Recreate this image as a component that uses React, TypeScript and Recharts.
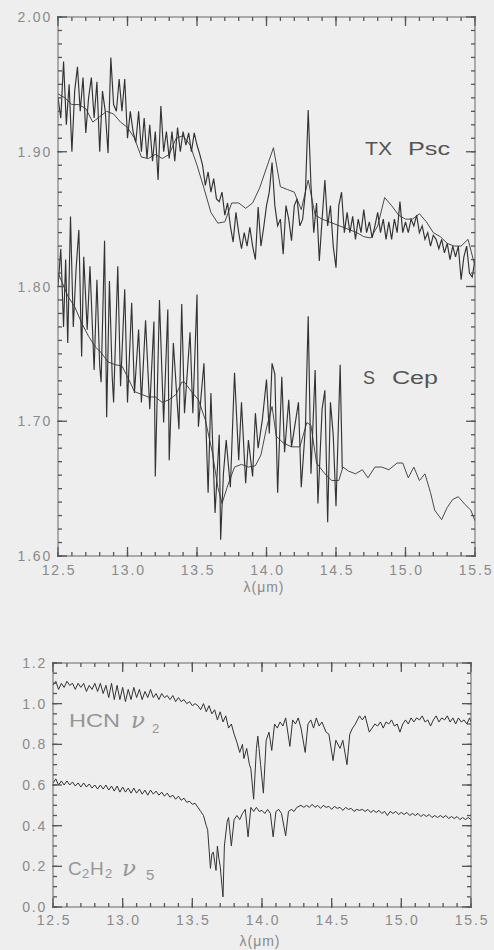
import React from 'react';
import { LineChart, Line, XAxis, YAxis } from 'recharts';

type P = [number, number];

// TX Psc observed spectrum (wavelength µm, relative flux)
const txPscObserved: P[] = [
  [12.50,1.94],[12.52,1.925],[12.54,1.967],[12.56,1.92],[12.58,1.95],[12.60,1.90],[12.62,1.945],[12.64,1.963],
  [12.66,1.93],[12.68,1.955],[12.70,1.914],[12.72,1.94],[12.74,1.955],[12.76,1.925],[12.78,1.952],[12.80,1.90],
  [12.82,1.945],[12.84,1.93],[12.86,1.899],[12.88,1.97],[12.90,1.935],[12.92,1.93],[12.94,1.954],[12.96,1.93],
  [12.98,1.954],[13.00,1.91],[13.02,1.93],[13.04,1.915],[13.06,1.907],[13.08,1.93],[13.10,1.90],[13.12,1.925],
  [13.14,1.895],[13.16,1.92],[13.18,1.893],[13.20,1.915],[13.22,1.879],[13.24,1.934],[13.26,1.90],[13.28,1.915],
  [13.30,1.895],[13.32,1.915],[13.34,1.893],[13.36,1.918],[13.38,1.90],[13.40,1.915],[13.42,1.905],[13.44,1.914],
  [13.46,1.90],[13.48,1.914],[13.50,1.905],[13.52,1.898],[13.54,1.89],[13.56,1.875],[13.58,1.885],[13.60,1.87],
  [13.62,1.88],[13.64,1.865],[13.66,1.863],[13.68,1.87],[13.70,1.853],[13.72,1.862],[13.74,1.845],[13.76,1.833],
  [13.78,1.855],[13.80,1.84],[13.82,1.828],[13.84,1.84],[13.86,1.83],[13.88,1.844],[13.90,1.83],[13.92,1.82],
  [13.94,1.859],[13.96,1.83],[13.98,1.844],[14.00,1.86],[14.02,1.87],[14.04,1.892],[14.06,1.86],[14.08,1.845],
  [14.10,1.85],[14.12,1.824],[14.14,1.86],[14.16,1.85],[14.18,1.834],[14.20,1.86],[14.22,1.865],[14.24,1.845],
  [14.26,1.85],[14.28,1.87],[14.30,1.931],[14.32,1.875],[14.34,1.84],[14.36,1.862],[14.38,1.819],[14.40,1.85],
  [14.42,1.879],[14.44,1.845],[14.46,1.86],[14.48,1.83],[14.50,1.814],[14.52,1.86],[14.54,1.87],[14.56,1.84],
  [14.58,1.855],[14.60,1.84],[14.62,1.852],[14.64,1.835],[14.66,1.85],[14.68,1.84],[14.70,1.857],[14.72,1.84],
  [14.74,1.848],[14.76,1.836],[14.78,1.845],[14.80,1.855],[14.82,1.84],[14.84,1.85],[14.86,1.835],[14.88,1.848],
  [14.90,1.835],[14.92,1.85],[14.94,1.84],[14.96,1.863],[14.98,1.84],[15.00,1.848],[15.02,1.84],[15.04,1.85],
  [15.06,1.845],[15.08,1.853],[15.10,1.84],[15.12,1.845],[15.14,1.835],[15.16,1.84],[15.18,1.83],[15.20,1.838],
  [15.22,1.835],[15.24,1.828],[15.26,1.835],[15.28,1.825],[15.30,1.832],[15.32,1.82],[15.34,1.83],[15.36,1.822],
  [15.38,1.83],[15.40,1.805],[15.42,1.822],[15.44,1.83],[15.46,1.81],[15.48,1.807],[15.50,1.82],
];

// TX Psc smoother comparison spectrum
const txPscModel: P[] = [
  [12.50,1.943],[12.55,1.94],[12.60,1.935],[12.65,1.935],[12.70,1.932],[12.75,1.922],[12.80,1.926],[12.85,1.93],
  [12.90,1.928],[12.95,1.922],[13.00,1.918],[13.05,1.91],[13.10,1.896],[13.15,1.895],[13.20,1.898],[13.25,1.895],
  [13.30,1.898],[13.35,1.91],[13.40,1.912],[13.45,1.905],[13.50,1.89],[13.55,1.873],[13.60,1.855],[13.65,1.847],
  [13.70,1.848],[13.75,1.862],[13.80,1.862],[13.85,1.858],[13.90,1.862],[13.95,1.873],[14.00,1.888],[14.05,1.903],
  [14.10,1.874],[14.15,1.872],[14.20,1.87],[14.25,1.857],[14.30,1.879],[14.35,1.853],[14.40,1.85],[14.45,1.848],
  [14.50,1.846],[14.55,1.844],[14.60,1.842],[14.65,1.84],[14.70,1.837],[14.75,1.836],[14.80,1.845],[14.85,1.866],
  [14.90,1.86],[14.95,1.853],[15.00,1.85],[15.05,1.85],[15.10,1.854],[15.15,1.848],[15.20,1.84],[15.25,1.837],
  [15.30,1.832],[15.35,1.83],[15.40,1.83],[15.45,1.835],[15.50,1.815],
];

// S Cep observed spectrum (ends near 14.55 µm)
const sCepObserved: P[] = [
  [12.50,1.80],[12.52,1.828],[12.54,1.77],[12.555,1.82],[12.57,1.758],[12.59,1.852],[12.61,1.77],[12.63,1.813],
  [12.65,1.842],[12.67,1.748],[12.685,1.822],[12.71,1.768],[12.73,1.815],[12.76,1.738],[12.78,1.805],[12.80,1.741],
  [12.81,1.729],[12.835,1.834],[12.85,1.703],[12.87,1.804],[12.89,1.733],[12.90,1.714],[12.93,1.815],[12.95,1.726],
  [12.98,1.798],[13.00,1.714],[13.03,1.788],[13.05,1.721],[13.08,1.768],[13.10,1.714],[13.13,1.775],[13.16,1.709],
  [13.17,1.731],[13.19,1.774],[13.20,1.659],[13.23,1.79],[13.26,1.699],[13.29,1.783],[13.30,1.671],[13.33,1.758],
  [13.35,1.726],[13.37,1.694],[13.39,1.787],[13.41,1.706],[13.45,1.766],[13.47,1.706],[13.50,1.794],[13.51,1.696],
  [13.55,1.743],[13.58,1.647],[13.60,1.721],[13.63,1.632],[13.66,1.69],[13.67,1.612],[13.69,1.661],[13.71,1.686],
  [13.74,1.651],[13.77,1.736],[13.80,1.671],[13.82,1.714],[13.85,1.654],[13.87,1.686],[13.90,1.659],[13.92,1.706],
  [13.94,1.68],[13.97,1.701],[14.00,1.731],[14.02,1.691],[14.04,1.743],[14.06,1.735],[14.08,1.647],[14.11,1.733],
  [14.13,1.677],[14.16,1.716],[14.18,1.681],[14.23,1.714],[14.25,1.651],[14.28,1.696],[14.30,1.778],[14.32,1.661],
  [14.35,1.738],[14.37,1.639],[14.40,1.709],[14.42,1.723],[14.44,1.625],[14.46,1.714],[14.48,1.69],[14.50,1.637],
  [14.53,1.742],[14.545,1.665],
];

// S Cep smoother comparison spectrum
const sCepModel: P[] = [
  [12.50,1.81],[12.53,1.803],[12.57,1.793],[12.62,1.785],[12.67,1.773],[12.72,1.763],[12.77,1.755],[12.81,1.751],
  [12.86,1.744],[12.91,1.742],[12.96,1.741],[13.00,1.733],[13.05,1.722],[13.10,1.72],[13.15,1.718],[13.20,1.718],
  [13.25,1.714],[13.30,1.716],[13.35,1.72],[13.39,1.729],[13.41,1.729],[13.46,1.722],[13.51,1.716],[13.56,1.701],
  [13.61,1.677],[13.65,1.651],[13.68,1.639],[13.72,1.652],[13.77,1.666],[13.82,1.668],[13.87,1.666],[13.92,1.667],
  [13.96,1.675],[14.00,1.695],[14.04,1.711],[14.07,1.689],[14.12,1.684],[14.18,1.681],[14.24,1.681],[14.29,1.699],
  [14.32,1.697],[14.36,1.669],[14.42,1.661],[14.47,1.656],[14.52,1.656],[14.55,1.666],[14.59,1.663],[14.64,1.661],
  [14.69,1.664],[14.73,1.658],[14.78,1.666],[14.83,1.666],[14.88,1.664],[14.94,1.669],[14.98,1.669],[15.02,1.658],
  [15.06,1.666],[15.10,1.656],[15.14,1.661],[15.18,1.647],[15.21,1.634],[15.26,1.627],[15.30,1.636],[15.34,1.642],
  [15.38,1.644],[15.43,1.638],[15.47,1.634],[15.50,1.626],
];

// HCN nu2 band
const hcnNu2: P[] = [
  [12.50,1.09],[12.52,1.11],[12.54,1.07],[12.56,1.10],[12.58,1.08],[12.60,1.11],[12.62,1.09],[12.64,1.10],
  [12.66,1.07],[12.68,1.10],[12.70,1.08],[12.72,1.10],[12.74,1.06],[12.76,1.09],[12.78,1.07],[12.80,1.10],
  [12.82,1.06],[12.84,1.10],[12.86,1.05],[12.88,1.09],[12.90,1.03],[12.92,1.10],[12.94,1.02],[12.96,1.09],
  [12.98,1.02],[13.00,1.08],[13.02,1.01],[13.04,1.07],[13.06,1.02],[13.08,1.08],[13.10,1.03],[13.12,1.07],
  [13.14,1.02],[13.16,1.06],[13.18,1.03],[13.20,1.07],[13.22,1.03],[13.24,1.05],[13.26,1.02],[13.28,1.05],
  [13.30,1.03],[13.32,1.04],[13.34,1.02],[13.36,1.04],[13.38,1.01],[13.40,1.03],[13.42,1.01],[13.44,1.02],
  [13.46,1.00],[13.48,1.01],[13.50,0.99],[13.52,1.00],[13.54,0.99],[13.56,0.97],[13.58,1.00],[13.60,0.96],
  [13.62,0.99],[13.64,0.95],[13.66,0.97],[13.68,0.92],[13.70,0.96],[13.72,0.91],[13.74,0.94],[13.76,0.88],
  [13.78,0.90],[13.80,0.85],[13.82,0.81],[13.84,0.76],[13.86,0.80],[13.87,0.73],[13.89,0.78],[13.91,0.70],
  [13.92,0.68],[13.94,0.53],[13.96,0.78],[13.97,0.84],[13.99,0.70],[14.01,0.56],[14.03,0.82],[14.05,0.86],
  [14.07,0.77],[14.09,0.90],[14.11,0.88],[14.13,0.91],[14.15,0.89],[14.17,0.93],[14.20,0.79],[14.22,0.92],
  [14.24,0.90],[14.26,0.93],[14.28,0.88],[14.31,0.76],[14.33,0.90],[14.35,0.92],[14.37,0.88],[14.39,0.93],
  [14.41,0.89],[14.43,0.91],[14.46,0.86],[14.48,0.85],[14.51,0.72],[14.53,0.82],[14.56,0.78],[14.58,0.82],
  [14.61,0.70],[14.63,0.85],[14.65,0.88],[14.67,0.90],[14.70,0.94],[14.72,0.92],[14.74,0.94],[14.77,0.86],
  [14.79,0.88],[14.81,0.90],[14.83,0.89],[14.85,0.91],[14.87,0.88],[14.89,0.91],[14.91,0.90],[14.93,0.92],
  [14.95,0.89],[14.97,0.90],[14.99,0.86],[15.01,0.90],[15.03,0.92],[15.05,0.90],[15.07,0.93],[15.09,0.91],
  [15.11,0.93],[15.13,0.92],[15.15,0.94],[15.17,0.91],[15.19,0.92],[15.21,0.89],[15.23,0.92],[15.25,0.94],
  [15.27,0.91],[15.29,0.93],[15.31,0.92],[15.33,0.94],[15.35,0.91],[15.37,0.93],[15.39,0.90],[15.41,0.93],
  [15.43,0.91],[15.45,0.92],[15.47,0.90],[15.49,0.93],[15.50,0.91],
];

// C2H2 nu5 band
const c2h2Nu5: P[] = [
  [12.50,0.61],[12.52,0.63],[12.54,0.60],[12.56,0.62],[12.58,0.60],[12.60,0.62],[12.62,0.60],[12.64,0.615],
  [12.66,0.595],[12.68,0.61],[12.70,0.59],[12.72,0.61],[12.74,0.59],[12.76,0.605],[12.78,0.585],[12.80,0.60],
  [12.82,0.58],[12.84,0.60],[12.86,0.58],[12.88,0.60],[12.90,0.575],[12.92,0.595],[12.94,0.57],[12.96,0.595],
  [12.98,0.565],[13.00,0.59],[13.02,0.565],[13.04,0.585],[13.06,0.56],[13.08,0.585],[13.10,0.56],[13.12,0.58],
  [13.14,0.555],[13.16,0.575],[13.18,0.55],[13.20,0.575],[13.22,0.555],[13.24,0.57],[13.26,0.55],[13.28,0.565],
  [13.30,0.545],[13.32,0.56],[13.34,0.54],[13.36,0.55],[13.38,0.53],[13.40,0.545],[13.42,0.525],[13.44,0.535],
  [13.46,0.515],[13.48,0.52],[13.50,0.505],[13.52,0.51],[13.54,0.49],[13.56,0.47],[13.58,0.45],[13.60,0.40],
  [13.61,0.38],[13.63,0.19],[13.64,0.26],[13.65,0.27],[13.67,0.18],[13.68,0.30],[13.69,0.24],[13.70,0.20],
  [13.72,0.05],[13.73,0.30],[13.75,0.42],[13.76,0.44],[13.78,0.30],[13.80,0.43],[13.82,0.45],[13.84,0.43],
  [13.86,0.46],[13.88,0.48],[13.90,0.345],[13.92,0.49],[13.94,0.47],[13.96,0.49],[13.98,0.47],[14.00,0.475],
  [14.02,0.46],[14.04,0.48],[14.06,0.46],[14.08,0.345],[14.10,0.47],[14.12,0.48],[14.14,0.46],[14.17,0.35],
  [14.19,0.47],[14.21,0.48],[14.23,0.47],[14.25,0.49],[14.28,0.50],[14.30,0.49],[14.32,0.50],[14.34,0.49],
  [14.36,0.505],[14.38,0.49],[14.40,0.50],[14.42,0.485],[14.44,0.50],[14.46,0.49],[14.48,0.495],[14.50,0.48],
  [14.52,0.495],[14.54,0.485],[14.56,0.49],[14.58,0.475],[14.60,0.49],[14.62,0.48],[14.64,0.485],[14.66,0.47],
  [14.68,0.48],[14.70,0.475],[14.72,0.48],[14.74,0.47],[14.76,0.48],[14.78,0.465],[14.80,0.475],[14.82,0.465],
  [14.84,0.475],[14.86,0.46],[14.88,0.47],[14.90,0.45],[14.92,0.47],[14.94,0.46],[14.96,0.47],[14.98,0.455],
  [15.00,0.465],[15.02,0.455],[15.04,0.465],[15.06,0.45],[15.08,0.46],[15.10,0.45],[15.12,0.46],[15.14,0.445],
  [15.16,0.455],[15.18,0.445],[15.20,0.455],[15.22,0.44],[15.24,0.45],[15.26,0.44],[15.28,0.45],[15.30,0.44],
  [15.32,0.45],[15.34,0.435],[15.36,0.445],[15.38,0.435],[15.40,0.445],[15.42,0.43],[15.44,0.44],[15.46,0.43],
  [15.48,0.44],[15.50,0.43],
];

// Axis ticks and labels
const xMajorTicks = [12.5, 13.0, 13.5, 14.0, 14.5, 15.0, 15.5];
const xMajorLabels = ['12.5', '13.0', '13.5', '14.0', '14.5', '15.0', '15.5'];
const xMinorTicks = [12.6, 12.7, 12.8, 12.9, 13.1, 13.2, 13.3, 13.4, 13.6, 13.7, 13.8, 13.9,
  14.1, 14.2, 14.3, 14.4, 14.6, 14.7, 14.8, 14.9, 15.1, 15.2, 15.3, 15.4];
const topYMajorTicks = [1.6, 1.7, 1.8, 1.9, 2.0];
const topYMajorLabels = ['1.60', '1.70', '1.80', '1.90', '2.00'];
const topYMinorTicks = [1.61, 1.62, 1.63, 1.64, 1.65, 1.66, 1.67, 1.68, 1.69,
  1.71, 1.72, 1.73, 1.74, 1.75, 1.76, 1.77, 1.78, 1.79,
  1.81, 1.82, 1.83, 1.84, 1.85, 1.86, 1.87, 1.88, 1.89,
  1.91, 1.92, 1.93, 1.94, 1.95, 1.96, 1.97, 1.98, 1.99];
const botYMajorTicks = [0, 0.2, 0.4, 0.6, 0.8, 1.0, 1.2];
const botYMajorLabels = ['0.0', '0.2', '0.4', '0.6', '0.8', '1.0', '1.2'];
const botYMinorTicks = [0.05, 0.1, 0.15, 0.25, 0.3, 0.35, 0.45, 0.5, 0.55, 0.65, 0.7, 0.75,
  0.85, 0.9, 0.95, 1.05, 1.1, 1.15];

const toRows = (s: P[]) => s.map(([w, v]) => ({ w, v }));

const AXIS = '#666666';
const TICK = '#555555';
const LABEL = '#8a8a8a';
const LINE = '#333333';
const FONT = '"Liberation Sans", Arial, Helvetica, sans-serif';

const findIdx = (list: number[], v: number) => list.findIndex((m) => Math.abs(m - v) < 1e-6);

// bottom labels: props.y is the inner end of the 10px major tick (plot bottom - 9)
function xLabel(majors: number[], labels: string[], dy: number) {
  return (props: any) => {
    const idx = findIdx(majors, Number(props.payload?.value));
    return (
      <text x={Number(props.x) + 1} y={Number(props.y) + dy} textAnchor="middle" fill={LABEL}
        fontFamily={FONT} fontSize={14} letterSpacing={1.8}>{idx >= 0 ? labels[idx] : ''}</text>
    );
  };
}
// left labels: props.x is the inner end of the 10px major tick (plot left + 9)
function yLabel(majors: number[], labels: string[], dx: number) {
  return (props: any) => {
    const idx = findIdx(majors, Number(props.payload?.value));
    return (
      <text x={Number(props.x) - dx} y={Number(props.y) + 5} textAnchor="end" fill={LABEL}
        fontFamily={FONT} fontSize={14} letterSpacing={1.8}>{idx >= 0 ? labels[idx] : ''}</text>
    );
  };
}
const blankTick = (props: any) => <text x={Number(props.x)} y={Number(props.y)} fill="none">{''}</text>;

const common = { interval: 0 as const, allowDataOverflow: true, stroke: TICK, tickMargin: 0 };
const tickStroke = { stroke: TICK, strokeWidth: 1.3 };
const frameStroke = { stroke: AXIS, strokeWidth: 1 };

// On each side: an outer axis carrying the long (major) ticks and labels, and an inner 1px axis
// carrying the frame line and short (minor) ticks. Ticks point inward (negative tickSize).
function frameAxes(
  yDomain: number[], xAll: number[], yAll: number[],
  xMaj: number[], xLab: string[], yMaj: number[], yLab: string[],
  bottomHeight: number, leftWidth: number, xLabelDy: number,
) {
  const xDomain = [12.5, 15.5];
  return [
    <XAxis key="xb2" xAxisId="xb2" dataKey="w" type="number" orientation="bottom" domain={xDomain} ticks={xMaj}
      height={bottomHeight - 1} tickSize={-10} tickLine={tickStroke} axisLine={false}
      tick={xLabel(xMaj, xLab, xLabelDy)} {...common} />,
    <XAxis key="xb1" xAxisId="xb1" dataKey="w" type="number" orientation="bottom" domain={xDomain} ticks={xAll}
      height={1} tickSize={-4} tickLine={tickStroke} axisLine={frameStroke} tick={blankTick} {...common} />,
    <XAxis key="xt2" xAxisId="xt2" dataKey="w" type="number" orientation="top" domain={xDomain} ticks={xMaj}
      height={1} tickSize={-10} tickLine={tickStroke} axisLine={false} tick={blankTick} {...common} />,
    <XAxis key="xt1" xAxisId="xt1" dataKey="w" type="number" orientation="top" domain={xDomain} ticks={xAll}
      height={1} tickSize={-4} tickLine={tickStroke} axisLine={frameStroke} tick={blankTick} {...common} />,
    <YAxis key="yl2" yAxisId="yl2" type="number" orientation="left" domain={yDomain} ticks={yMaj}
      width={leftWidth - 1} tickSize={-10} tickLine={tickStroke} axisLine={false}
      tick={yLabel(yMaj, yLab, 15)} {...common} />,
    <YAxis key="yl1" yAxisId="yl1" type="number" orientation="left" domain={yDomain} ticks={yAll}
      width={1} tickSize={-4} tickLine={tickStroke} axisLine={frameStroke} tick={blankTick} {...common} />,
    <YAxis key="yr2" yAxisId="yr2" type="number" orientation="right" domain={yDomain} ticks={yMaj}
      width={1} tickSize={-10} tickLine={tickStroke} axisLine={false} tick={blankTick} {...common} />,
    <YAxis key="yr1" yAxisId="yr1" type="number" orientation="right" domain={yDomain} ticks={yAll}
      width={1} tickSize={-4} tickLine={tickStroke} axisLine={frameStroke} tick={blankTick} {...common} />,
  ];
}

// invisible series bound to the frame axes so every axis shares the same scale
function frameBinders(rows: { w: number; v: number }[]) {
  const pairs = [['xb1', 'yl1'], ['xt1', 'yr1'], ['xt2', 'yr2']];
  return pairs.map(([xa, ya]) => (
    <Line key={xa + ya} data={rows} dataKey="v" xAxisId={xa} yAxisId={ya} dot={false}
      stroke="transparent" strokeWidth={0} isAnimationActive={false} />
  ));
}

function TopChart() {
  // plot area: x 58..475, y 17..556
  return (
    <LineChart width={494} height={600} margin={{ top: 15, right: 17, bottom: 0, left: 0 }}>
      {frameAxes([1.6, 2.0], [...xMajorTicks, ...xMinorTicks], [...topYMajorTicks, ...topYMinorTicks],
        xMajorTicks, xMajorLabels, topYMajorTicks, topYMajorLabels, 44, 58, 28)}
      <Line data={toRows(txPscModel)} dataKey="v" xAxisId="xb2" yAxisId="yl2" type="linear" dot={false}
        stroke="#4a4a4a" strokeWidth={1} isAnimationActive={false} />
      <Line data={toRows(txPscObserved)} dataKey="v" xAxisId="xb2" yAxisId="yl2" type="linear" dot={false}
        stroke={LINE} strokeWidth={1.15} isAnimationActive={false} />
      <Line data={toRows(sCepModel)} dataKey="v" xAxisId="xb2" yAxisId="yl2" type="linear" dot={false}
        stroke="#4a4a4a" strokeWidth={1} isAnimationActive={false} />
      <Line data={toRows(sCepObserved)} dataKey="v" xAxisId="xb2" yAxisId="yl2" type="linear" dot={false}
        stroke={LINE} strokeWidth={1.15} isAnimationActive={false} />
      {frameBinders(toRows(sCepModel))}
    </LineChart>
  );
}

function BottomChart() {
  // plot area: x 53..471, y 663..907 (page coordinates)
  return (
    <LineChart width={494} height={310} margin={{ top: 21, right: 21, bottom: 0, left: 0 }}>
      {frameAxes([0, 1.2], [...xMajorTicks, ...xMinorTicks], [...botYMajorTicks, ...botYMinorTicks],
        xMajorTicks, xMajorLabels, botYMajorTicks, botYMajorLabels, 43, 53, 27)}
      <Line data={toRows(hcnNu2)} dataKey="v" xAxisId="xb2" yAxisId="yl2" type="linear" dot={false}
        stroke={LINE} strokeWidth={1} isAnimationActive={false} />
      <Line data={toRows(c2h2Nu5)} dataKey="v" xAxisId="xb2" yAxisId="yl2" type="linear" dot={false}
        stroke={LINE} strokeWidth={1} isAnimationActive={false} />
      {frameBinders(toRows(c2h2Nu5))}
    </LineChart>
  );
}

function Annotations() {
  const dark = '#555555';
  const light = '#969696';
  const nuFont = '"DejaVu Serif", "Liberation Serif", serif';
  return (
    <svg width={494} height={950} style={{ position: 'absolute', left: 0, top: 0, pointerEvents: 'none' }}>
      <text x={365} y={154.5} fontFamily={FONT} fontSize={18} fill={dark} textLength={27} lengthAdjust="spacingAndGlyphs">TX</text>
      <text x={408} y={154.5} fontFamily={FONT} fontSize={18} fill={dark} textLength={42} lengthAdjust="spacingAndGlyphs">Psc</text>
      <text x={363} y={383.5} fontFamily={FONT} fontSize={18} fill={dark} textLength={12} lengthAdjust="spacingAndGlyphs">S</text>
      <text x={392} y={383.5} fontFamily={FONT} fontSize={18} fill={dark} textLength={46} lengthAdjust="spacingAndGlyphs">Cep</text>
      <text x={264} y={592} textAnchor="middle" fontFamily={FONT} fontSize={14} fill={LABEL} letterSpacing={1}>λ(μm)</text>

      <text x={69} y={727} fontFamily={FONT} fontSize={19} fill={light} textLength={51} lengthAdjust="spacingAndGlyphs">HCN</text>
      <text x={131} y={728} fontFamily={nuFont} fontStyle="italic" fontSize={23} fill={light}>ν</text>
      <text x={152} y={733} fontFamily={FONT} fontSize={13} fill={light}>2</text>

      <text x={68} y={875} fontFamily={FONT} fontSize={19} fill={light}>C</text>
      <text x={82} y={878} fontFamily={FONT} fontSize={13} fill={light}>2</text>
      <text x={90} y={875} fontFamily={FONT} fontSize={19} fill={light}>H</text>
      <text x={105} y={878} fontFamily={FONT} fontSize={13} fill={light}>2</text>
      <text x={122} y={876} fontFamily={nuFont} fontStyle="italic" fontSize={23} fill={light}>ν</text>
      <text x={146} y={880} fontFamily={FONT} fontSize={15} fill={light}>5</text>
      <text x={260} y={946} textAnchor="middle" fontFamily={FONT} fontSize={14} fill={LABEL} letterSpacing={1}>λ(μm)</text>
    </svg>
  );
}

export default function App() {
  return (
    <div style={{ position: 'absolute', left: 0, top: 0, width: 494, height: 950, background: '#eeeeee', overflow: 'hidden' }}>
      <div style={{ position: 'absolute', left: 0, top: 0 }}>
        <TopChart />
      </div>
      <div style={{ position: 'absolute', left: 0, top: 640 }}>
        <BottomChart />
      </div>
      <Annotations />
    </div>
  );
}
